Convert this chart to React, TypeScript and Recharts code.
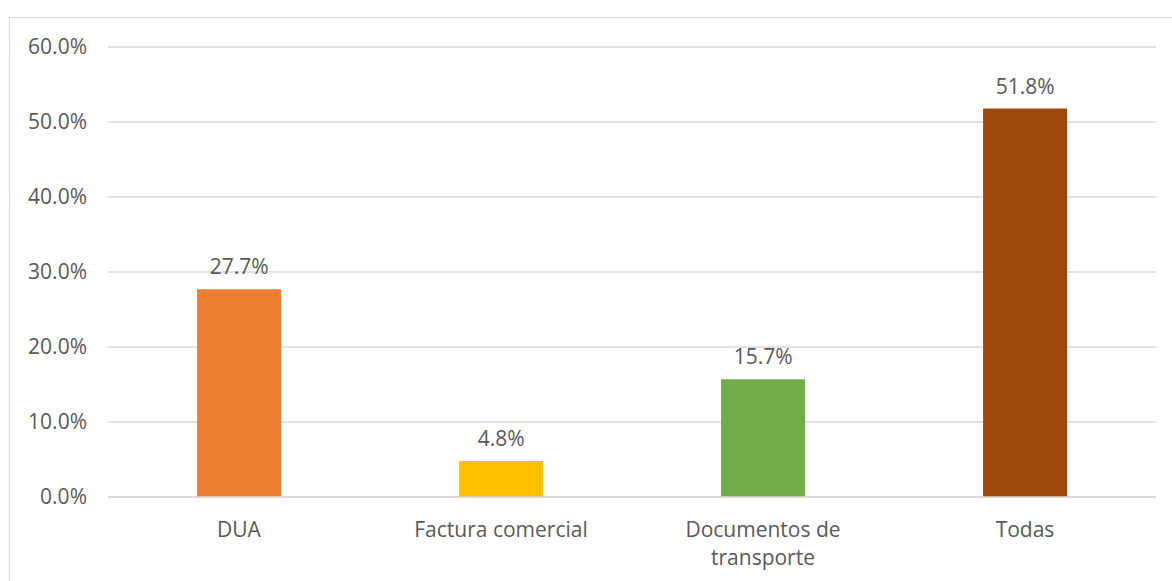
import { Bar, BarChart, CartesianGrid, Cell, LabelList, XAxis, YAxis } from "recharts";

const categories = ["DUA", "Factura comercial", "Documentos de transporte", "Todas"];
const shares = [27.7, 4.8, 15.7, 51.8];
const barColors = ["#ED7D31", "#FFC000", "#70AD47", "#9E480E"];
const yTicks = [0, 10, 20, 30, 40, 50, 60];

const data = categories.map((name, i) => ({ name, value: shares[i] }));

const FONT = "'Open Sans', sans-serif";
const TEXT = "#595959";
const SIZE = 21;

// naive word wrap so long category names break like the Excel original
function wrap(label: string, maxChars = 18) {
  const lines: string[] = [];
  let cur = "";
  for (const w of label.split(" ")) {
    const next = cur ? cur + " " + w : w;
    if (next.length > maxChars && cur) {
      lines.push(cur);
      cur = w;
    } else cur = next;
  }
  if (cur) lines.push(cur);
  return lines;
}

function CategoryTick({ x, y, payload }: any) {
  const lines = wrap(String(payload.value));
  return (
    <text x={x} y={y} textAnchor="middle" fill={TEXT} fontSize={SIZE} fontFamily={FONT}>
      {lines.map((l, i) => (
        <tspan key={i} x={x} dy={i === 0 ? 32 : 28}>
          {l}
        </tspan>
      ))}
    </text>
  );
}

export default function App() {
  return (
    <div style={{ position: "absolute", left: 0, top: 0, width: 1172, height: 581, overflow: "hidden", background: "#fff" }}>
      <div
        style={{
          position: "absolute",
          left: 9,
          top: 17,
          width: 1300,
          height: 700,
          border: "1px solid #D9D9D9",
        }}
      />
      <div style={{ position: "absolute", left: 0, top: 0 }}>
        <BarChart
          width={1172}
          height={581}
          data={data}
          margin={{ top: 47, right: 16, bottom: 54, left: 0 }}
          barCategoryGap="34%"
        >
          <CartesianGrid vertical={false} stroke="#D9D9D9" strokeWidth={1.3} />
          <XAxis
            dataKey="name"
            tickLine={false}
            axisLine={{ stroke: "#D9D9D9", strokeWidth: 1.3 }}
            tick={<CategoryTick />}
            interval={0}
          />
          <YAxis
            width={108}
            domain={[0, 60]}
            ticks={yTicks}
            tickLine={false}
            axisLine={false}
            tickMargin={15}
            tickFormatter={(v: number) => v.toFixed(1) + "%"}
            tick={{ fill: TEXT, fontSize: SIZE, fontFamily: FONT }}
          />
          <Bar dataKey="value" isAnimationActive={false}>
            {data.map((d, i) => (
              <Cell key={d.name} fill={barColors[i]} />
            ))}
            <LabelList
              dataKey="value"
              position="top"
              offset={15}
              formatter={(v: any) => Number(v).toFixed(1) + "%"}
              fill={TEXT}
              fontSize={SIZE}
              fontFamily={FONT}
            />
          </Bar>
        </BarChart>
      </div>
    </div>
  );
}
